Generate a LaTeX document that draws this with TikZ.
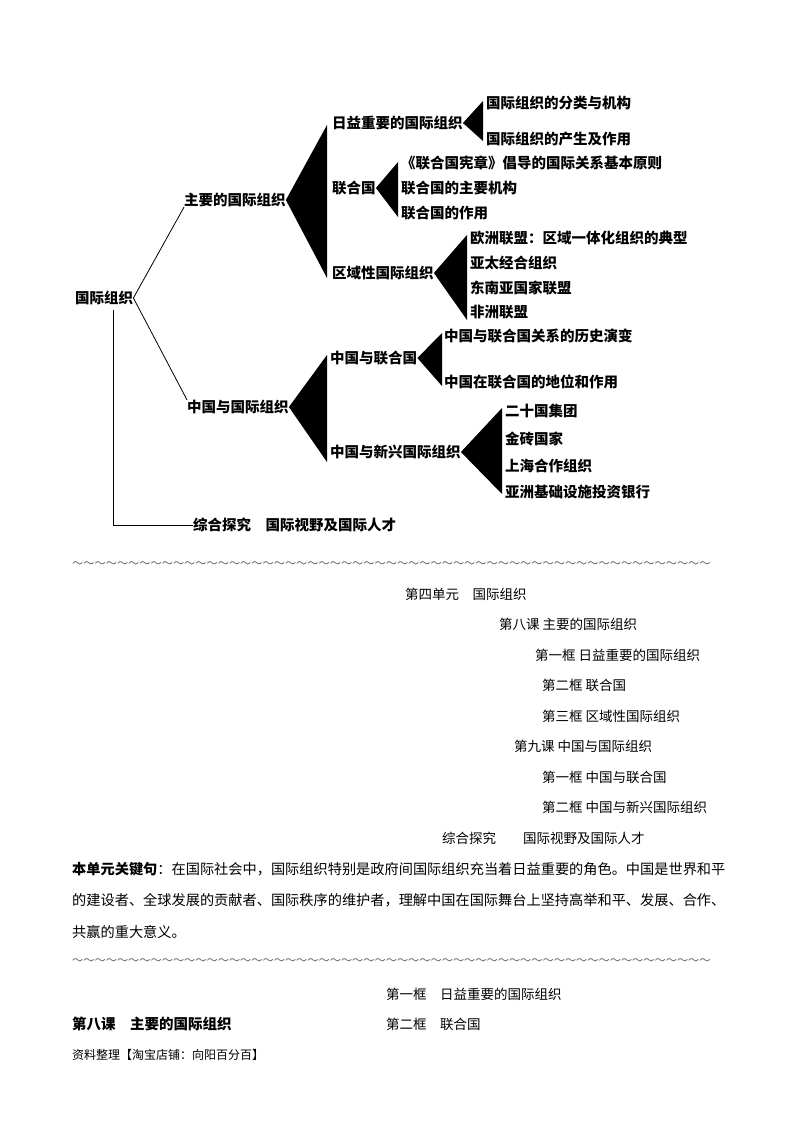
\documentclass[tikz,border=0pt]{standalone}
\usepackage{fontspec}
\setmainfont{Noto Sans CJK SC}
\begin{document}
\begin{tikzpicture}[x=1pt,y=-1pt,
  tb/.style={anchor=west,inner sep=0pt,font=\fontsize{14.5}{14.5}\selectfont\bfseries},
  tx/.style={anchor=west,inner sep=0pt,font=\fontsize{13.5}{13.5}\selectfont},
  para/.style={anchor=west,inner sep=0pt,font=\fontsize{14.2}{14.2}\selectfont},
  tl/.style={anchor=west,inner sep=0pt,font=\fontsize{11.2}{11.2}\selectfont,text=black!60}]
\useasboundingbox (0,0) rectangle (800,1132);
% tree
\node[tb] (root) at (75,298) {国际组织};
\node[tb] (a) at (184,200) {主要的国际组织};
\node[tb] (b) at (187,407) {中国与国际组织};
\node[tb] (c) at (193,525) {综合探究\quad 国际视野及国际人才};
\node[tb] (a1) at (332,123) {日益重要的国际组织};
\node[tb] (a2) at (332,188) {联合国};
\node[tb] (a3) at (332,273) {区域性国际组织};
\node[tb] (a11) at (486,103) {国际组织的分类与机构};
\node[tb] (a12) at (486,139) {国际组织的产生及作用};
\node[tb] (a21) at (401,163) {《联合国宪章》倡导的国际关系基本原则};
\node[tb] (a22) at (401,188) {联合国的主要机构};
\node[tb] (a23) at (401,213) {联合国的作用};
\node[tb] (a31) at (470,238) {欧洲联盟：区域一体化组织的典型};
\node[tb] (a32) at (470,263) {亚太经合组织};
\node[tb] (a33) at (470,288) {东南亚国家联盟};
\node[tb] (a34) at (470,312) {非洲联盟};
\node[tb] (b1) at (330,358) {中国与联合国};
\node[tb] (b2) at (330,452) {中国与新兴国际组织};
\node[tb] (b11) at (444,336) {中国与联合国关系的历史演变};
\node[tb] (b12) at (444,382) {中国在联合国的地位和作用};
\node[tb] (b21) at (505,411) {二十国集团};
\node[tb] (b22) at (505,439) {金砖国家};
\node[tb] (b23) at (505,466) {上海合作组织};
\node[tb] (b24) at (505,492) {亚洲基础设施投资银行};
\draw[line width=0.8pt] (root.east) -- (a.south west);
\draw[line width=0.8pt] (root.east) -- (b.north west);
\coordinate (v1) at (113,310);
\coordinate (v2) at (113,525);
\draw[line width=0.8pt] (v1) -- (v2) -- (c.west);
\fill (a.east) -- (327,125) -- (327,278) -- cycle;
\fill (a1.east) -- (483,101) -- (483,141) -- cycle;
\fill (a2.east) -- (398,162) -- (398,217) -- cycle;
\fill (a3.east) -- (467,235) -- (467,320) -- cycle;
\fill (b.east) -- (327,355) -- (327,462) -- cycle;
\fill (b1.east) -- (442,333) -- (442,386) -- cycle;
\fill (b2.east) -- (502,408) -- (502,494) -- cycle;
% lower text
\node[tl] (t1) at (72,565) {～～～～～～～～～～～～～～～～～～～～～～～～～～～～～～～～～～～～～～～～～～～～～～～～～～～～～～～～～};
\node[tx] (l1) at (405,594) {第四单元\quad 国际组织};
\node[tx] (l2) at (499,624) {第八课\ 主要的国际组织};
\node[tx] (l3) at (535,655) {第一框\ 日益重要的国际组织};
\node[tx] (l4) at (542,685) {第二框\ 联合国};
\node[tx] (l5) at (542,716) {第三框\ 区域性国际组织};
\node[tx] (l6) at (514,746) {第九课\ 中国与国际组织};
\node[tx] (l7) at (542,777) {第一框\ 中国与联合国};
\node[tx] (l8) at (542,807) {第二框\ 中国与新兴国际组织};
\node[tx] (l9) at (442,838) {综合探究\qquad 国际视野及国际人才};
\node[para] (p1) at (72,869) {\textbf{本单元关键句}：在国际社会中，国际组织特别是政府间国际组织充当着日益重要的角色。中国是世界和平};
\node[para] (p2) at (72,900) {的建设者、全球发展的贡献者、国际秩序的维护者，理解中国在国际舞台上坚持高举和平、发展、合作、};
\node[para] (p3) at (72,932) {共赢的重大意义。};
\node[tl] (t2) at (72,962) {～～～～～～～～～～～～～～～～～～～～～～～～～～～～～～～～～～～～～～～～～～～～～～～～～～～～～～～～～};
\node[tx] (m1) at (386,994) {第一框\quad 日益重要的国际组织};
\node[tx,font=\fontsize{14.5}{14.5}\selectfont\bfseries] (m2) at (72,1024) {第八课\quad 主要的国际组织};
\node[tx] (m3) at (386,1024) {第二框\quad 联合国};
\node[tx,font=\fontsize{12}{12}\selectfont] (m4) at (72,1055) {资料整理【淘宝店铺：向阳百分百】};
\end{tikzpicture}
\end{document}
